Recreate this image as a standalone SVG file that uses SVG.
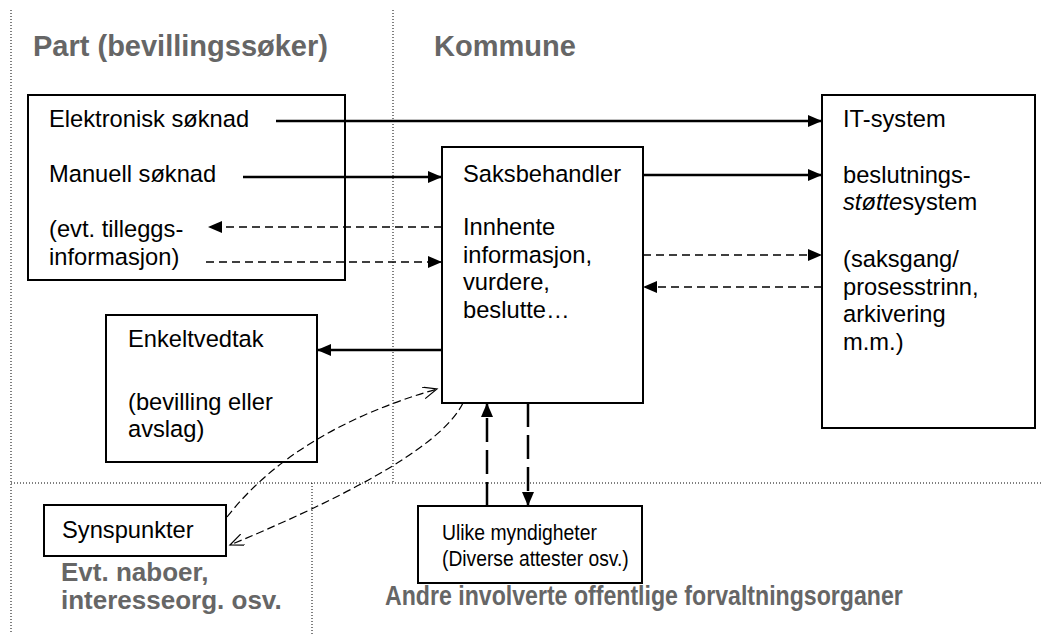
<svg xmlns="http://www.w3.org/2000/svg" width="1042" height="634" viewBox="0 0 1042 634">
  <style>
    .zone { stroke: #000; stroke-width: 1; stroke-dasharray: 1 2; fill: none; }
    .box { fill: #fff; stroke: #000; stroke-width: 2; }
    .t { font-family: "Liberation Sans", Arial, sans-serif; font-size: 23.7px; fill: #000; }
    .tc { font-family: "Liberation Sans", Arial, sans-serif; font-size: 22px; fill: #000; }
    .h { font-family: "Liberation Sans", Arial, sans-serif; font-weight: bold; fill: #666; }
    .solid { stroke: #000; stroke-width: 2.5; fill: none; }
    .dash { stroke: #000; stroke-width: 1.3; fill: none; stroke-dasharray: 8 5; }
    .bigdash { stroke: #000; stroke-width: 2.5; fill: none; stroke-dasharray: 24 8; }
    .curve { stroke: #000; stroke-width: 1.2; fill: none; stroke-dasharray: 8 4; }
  </style>
  <defs>
    <marker id="head" markerUnits="userSpaceOnUse" markerWidth="15" markerHeight="13" refX="14" refY="6" orient="auto">
      <path d="M0,0 L14,6 L0,12 z" fill="#000"/>
    </marker>
    <marker id="open" markerUnits="userSpaceOnUse" markerWidth="16" markerHeight="14" refX="14" refY="6" orient="auto">
      <path d="M0,0 L14,6 L0,12" fill="none" stroke="#000" stroke-width="1.2"/>
    </marker>
  </defs>

  <rect width="1042" height="634" fill="#fff"/>

  <!-- zone borders -->
  <g id="zones">
    <line class="zone" x1="11" y1="10" x2="11" y2="634"/>
    <line class="zone" x1="393" y1="10" x2="393" y2="483"/>
    <line class="zone" x1="11" y1="483" x2="1042" y2="483"/>
    <line class="zone" x1="312" y1="483" x2="312" y2="634"/>
  </g>

  <!-- zone headings -->
  <g id="headings">
    <text class="h" x="33" y="56" font-size="29">Part (bevillingssøker)</text>
    <text class="h" x="434" y="56" font-size="29">Kommune</text>
    <text class="h" x="61" y="581" font-size="26">Evt. naboer,</text>
    <text class="h" x="61" y="609" font-size="26">interesseorg. osv.</text>
    <text class="h" font-size="27" transform="translate(385,605) scale(0.857,1)">Andre involverte offentlige forvaltningsorganer</text>
  </g>

  <g id="part">
    <rect class="box" x="28" y="95" width="317" height="185"/>
    <text class="t" x="49" y="127">Elektronisk søknad</text>
    <text class="t" x="49" y="182">Manuell søknad</text>
    <text class="t" x="49" y="237">(evt. tilleggs-</text>
    <text class="t" x="49" y="265">informasjon)</text>
  </g>

  <g id="saksbehandler">
    <rect class="box" x="442" y="147" width="201" height="256"/>
    <text class="t" x="463" y="182">Saksbehandler</text>
    <text class="t" x="463" y="235">Innhente</text>
    <text class="t" x="463" y="263">informasjon,</text>
    <text class="t" x="463" y="290">vurdere,</text>
    <text class="t" x="463" y="318">beslutte…</text>
  </g>

  <g id="it-system">
    <rect class="box" x="822" y="95" width="213" height="333"/>
    <text class="t" x="843" y="127">IT-system</text>
    <text class="t" x="843" y="183">beslutnings-</text>
    <text class="t" x="843" y="210"><tspan font-style="italic">støtte</tspan>system</text>
    <text class="t" x="843" y="267">(saksgang/</text>
    <text class="t" x="843" y="295">prosesstrinn,</text>
    <text class="t" x="843" y="322">arkivering</text>
    <text class="t" x="843" y="350">m.m.)</text>
  </g>

  <g id="enkeltvedtak">
    <rect class="box" x="106" y="315" width="211" height="147"/>
    <text class="t" x="128" y="347">Enkeltvedtak</text>
    <text class="t" x="128" y="410">(bevilling eller</text>
    <text class="t" x="128" y="437">avslag)</text>
  </g>

  <g id="synspunkter">
    <rect class="box" x="44" y="505" width="182" height="51"/>
    <text class="t" x="62" y="538">Synspunkter</text>
  </g>

  <g id="myndigheter">
    <rect class="box" x="418" y="506" width="224" height="77"/>
    <text class="tc" transform="translate(442,540) scale(0.88,1)">Ulike myndigheter</text>
    <text class="tc" transform="translate(442,566) scale(0.875,1)">(Diverse attester osv.)</text>
  </g>

  <!-- connectors -->
  <g id="connectors">
    <line class="solid" x1="276" y1="121" x2="822" y2="121" marker-end="url(#head)"/>
    <line class="solid" x1="243" y1="177" x2="442" y2="177" marker-end="url(#head)"/>
    <line class="dash" x1="442" y1="227" x2="208" y2="227" marker-end="url(#head)"/>
    <line class="dash" x1="206" y1="262" x2="442" y2="262" marker-end="url(#head)"/>
    <line class="solid" x1="643" y1="175" x2="822" y2="175" marker-end="url(#head)"/>
    <line class="dash" x1="643" y1="255" x2="822" y2="255" marker-end="url(#head)"/>
    <line class="dash" x1="822" y1="287" x2="643" y2="287" marker-end="url(#head)"/>
    <line class="solid" x1="442" y1="350" x2="317" y2="350" marker-end="url(#head)"/>
    <line class="bigdash" x1="487" y1="506" x2="487" y2="403" marker-end="url(#head)"/>
    <line class="bigdash" x1="528" y1="403" x2="528" y2="506" marker-end="url(#head)"/>
    <path class="curve" d="M227,517 Q295,430 437,389" marker-end="url(#open)"/>
    <path class="curve" d="M463,403 Q435,460 230,545" marker-end="url(#open)"/>
  </g>
</svg>
